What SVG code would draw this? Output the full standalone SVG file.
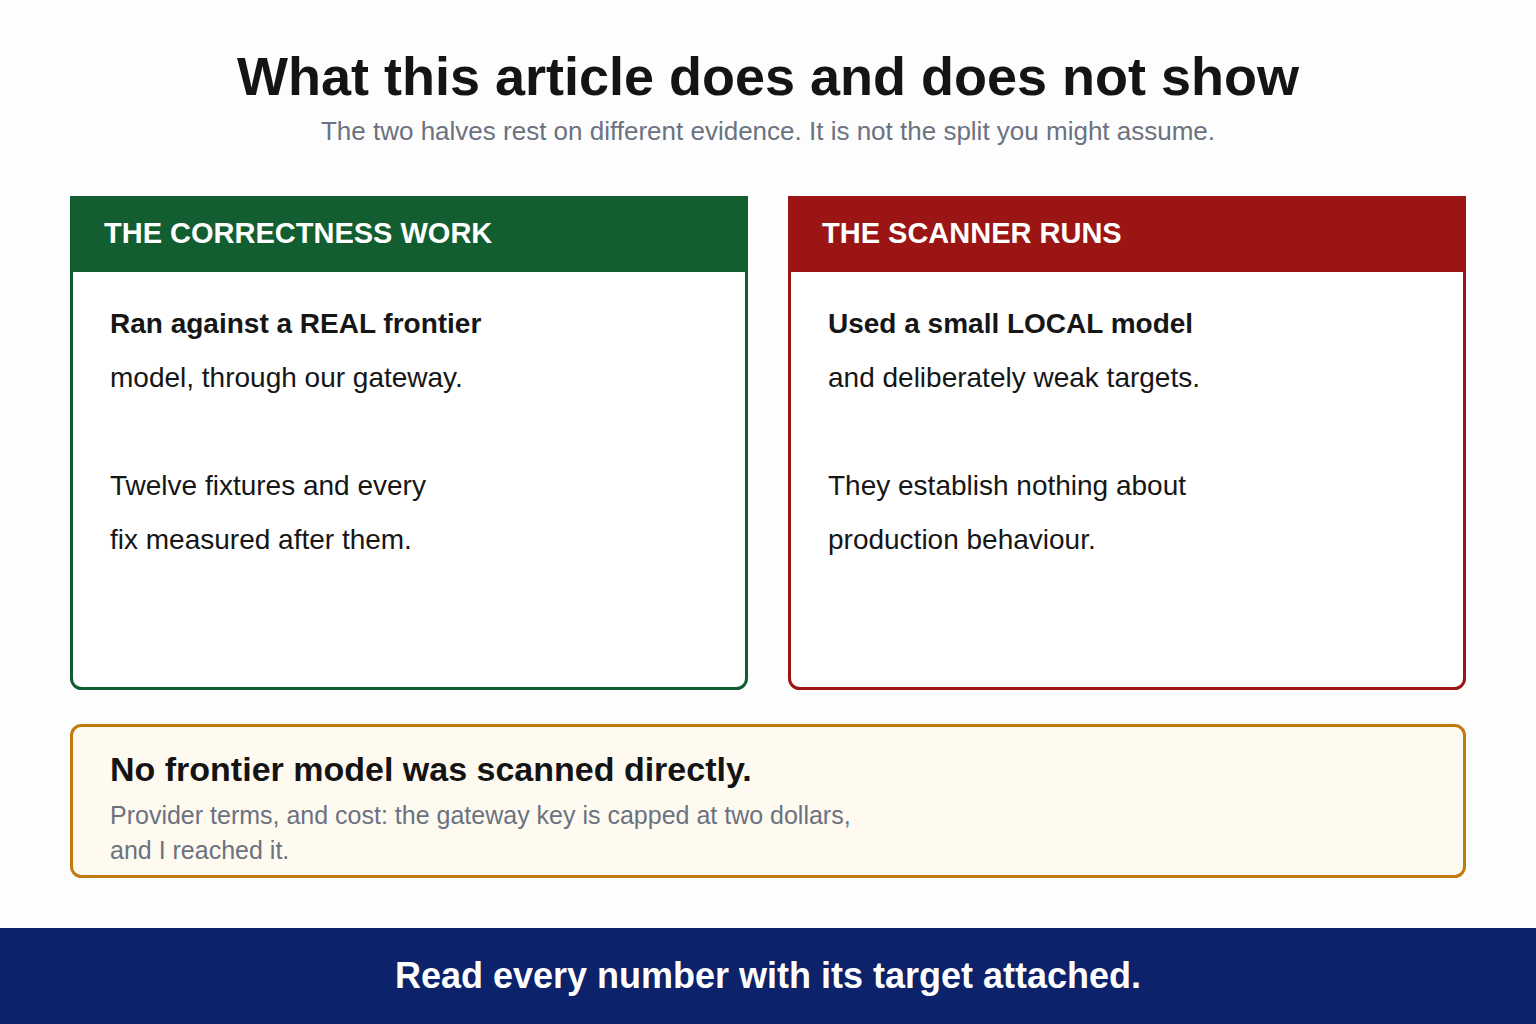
<svg xmlns="http://www.w3.org/2000/svg" width="1536" height="1024" viewBox="0 0 1536 1024">
<style>
text{font-family:"Liberation Sans",Arial,sans-serif}
.t{font-size:28px;fill:#161616}
.b{font-weight:bold}
.h{font-size:29px;font-weight:bold;fill:#fff}
.g{font-size:25px;fill:#6b7280}
</style>
<rect width="1536" height="1024" fill="#fdfdfd"/>
<text x="768" y="95" text-anchor="middle" font-size="54" font-weight="bold" fill="#141414">What this article does and does not show</text>
<text x="768" y="140" text-anchor="middle" font-size="26" fill="#6b7280">The two halves rest on different evidence. It is not the split you might assume.</text>
<g id="correctness">
<rect x="71.5" y="197.5" width="675" height="491" rx="10" fill="#fff" stroke="#135e30" stroke-width="3"/>
<path d="M70 196H748V272H70Z" fill="#135e30"/>
<text x="104" y="243" class="h">THE CORRECTNESS WORK</text>
<text x="110" y="333" class="t b">Ran against a REAL frontier</text>
<text x="110" y="387" class="t">model, through our gateway.</text>
<text x="110" y="495" class="t">Twelve fixtures and every</text>
<text x="110" y="549" class="t">fix measured after them.</text>
</g>
<g id="scanner">
<rect x="789.5" y="197.5" width="675" height="491" rx="10" fill="#fff" stroke="#9b1515" stroke-width="3"/>
<path d="M788 196H1466V272H788Z" fill="#9b1515"/>
<text x="822" y="243" class="h">THE SCANNER RUNS</text>
<text x="828" y="333" class="t b">Used a small LOCAL model</text>
<text x="828" y="387" class="t">and deliberately weak targets.</text>
<text x="828" y="495" class="t">They establish nothing about</text>
<text x="828" y="549" class="t">production behaviour.</text>
</g>
<g id="note">
<rect x="71.5" y="725.5" width="1393" height="151" rx="10" fill="#fffaf0" stroke="#c07a10" stroke-width="3"/>
<text x="110" y="781" font-size="34" font-weight="bold" fill="#141414">No frontier model was scanned directly.</text>
<text x="110" y="824" class="g">Provider terms, and cost: the gateway key is capped at two dollars,</text>
<text x="110" y="859" class="g">and I reached it.</text>
</g>
<g id="footer">
<rect x="0" y="928" width="1536" height="96" fill="#0c226a"/>
<text x="768" y="988" text-anchor="middle" font-size="36" font-weight="bold" fill="#fff">Read every number with its target attached.</text>
</g>
<g id="connectors"/>
</svg>
